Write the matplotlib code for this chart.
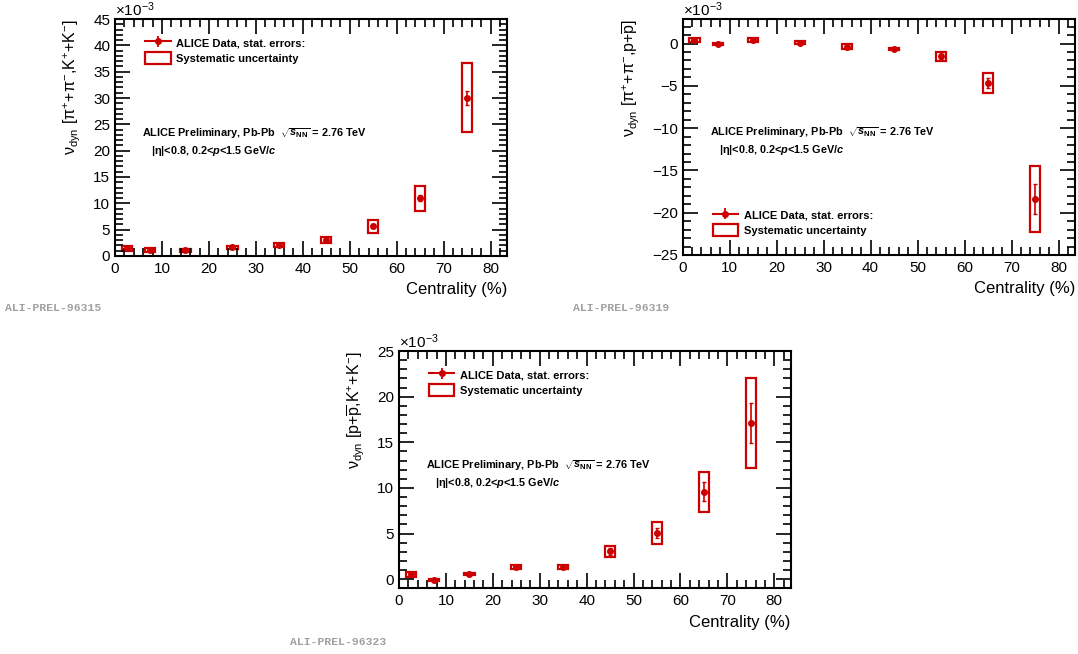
import numpy as np
import matplotlib
matplotlib.use("Agg")
import matplotlib.pyplot as plt
from matplotlib.patches import Rectangle
from matplotlib.lines import Line2D
from matplotlib.collections import LineCollection
from matplotlib.container import ErrorbarContainer
from matplotlib.ticker import MultipleLocator

plt.rcParams['font.family'] = ['Liberation Sans', 'DejaVu Sans']
plt.rcParams['mathtext.fontset'] = 'custom'
plt.rcParams['mathtext.rm'] = 'Liberation Sans'
plt.rcParams['mathtext.it'] = 'Liberation Sans:italic'
plt.rcParams['mathtext.bf'] = 'Liberation Sans:bold'
plt.rcParams['mathtext.bfit'] = 'Liberation Sans:italic:bold'

RED = '#cc0000'

# centrality bins (%)
cent = [2.5, 7.5, 15, 25, 35, 45, 55, 65, 75]

# nu_dyn [pi,K]  (x1e-3)
piK_val = [1.46, 1.14, 1.08, 1.65, 2.09, 3.04, 5.63, 10.95, 30.06]
piK_stat = [0.15, 0.12, 0.12, 0.12, 0.15, 0.2, 0.35, 0.6, 1.3]
piK_sys = [0.5, 0.3, 0.3, 0.3, 0.45, 0.55, 1.2, 2.4, 6.6]

# nu_dyn [pi,p]
pip_val = [0.39, 0.0, 0.43, 0.12, -0.35, -0.63, -1.53, -4.70, -18.42]
pip_stat = [0.08, 0.08, 0.08, 0.08, 0.1, 0.12, 0.35, 0.6, 1.76]
pip_sys = [0.25, 0.12, 0.25, 0.2, 0.3, 0.15, 0.57, 1.2, 3.9]

# nu_dyn [p,K]
pK_val = [0.51, -0.07, 0.55, 1.31, 1.31, 3.03, 5.04, 9.56, 17.15]
pK_stat = [0.08, 0.08, 0.08, 0.1, 0.1, 0.38, 0.56, 1.04, 2.2]
pK_sys = [0.28, 0.12, 0.15, 0.25, 0.25, 0.64, 1.17, 2.2, 4.93]

sys_halfwidth = 1.1

fig = plt.figure(figsize=(10.78, 6.54), dpi=100)

panels = [
    dict(rect=[0.1067, 0.6086, 0.3636, 0.3623], val=piK_val, stat=piK_stat, sys=piK_sys,
         ylim=(0, 45), ylab=r'ν$_{\rm dyn}$ [π$^{+}$+π$^{-}$,K$^{+}$+K$^{-}$]',
         leg=(0.065, 0.945), txt=(0.07, 0.52), tag='ALI-PREL-96315', tagpos=(5, 308)),
    dict(rect=[0.6333, 0.6101, 0.3639, 0.3608], val=pip_val, stat=pip_stat, sys=pip_sys,
         ylim=(-25, 2.9), ylab=r'ν$_{\rm dyn}$ [π$^{+}$+π$^{-}$,p+$\overline{\rm p}$]',
         leg=(0.065, 0.215), txt=(0.07, 0.52), tag='ALI-PREL-96319', tagpos=(573, 308)),
    dict(rect=[0.3701, 0.1005, 0.3634, 0.3628], val=pK_val, stat=pK_stat, sys=pK_sys,
         ylim=(-1, 25), ylab=r'ν$_{\rm dyn}$ [p+$\overline{\rm p}$,K$^{+}$+K$^{-}$]',
         leg=(0.065, 0.945), txt=(0.07, 0.52), tag='ALI-PREL-96323', tagpos=(290, 642)),
]

for p in panels:
    ax = fig.add_axes(p['rect'])
    for x, v, s in zip(cent, p['val'], p['sys']):
        ax.add_patch(Rectangle((x - sys_halfwidth, v - s), 2 * sys_halfwidth, 2 * s,
                               fill=False, edgecolor=RED, lw=1.6))
    ax.errorbar(cent, p['val'], yerr=p['stat'], fmt='o', color=RED, ms=4,
                elinewidth=1.2, capsize=1.5, capthick=1.0)

    # legend handles
    dline = Line2D([], [], color=RED, marker='o', ms=4, lw=1.5)
    bars = LineCollection([], colors=RED, linewidths=1.3)
    h1 = ErrorbarContainer((dline, (), [bars]), has_xerr=False, has_yerr=True)
    box = Rectangle((0, 0), 1, 1, fill=False, edgecolor=RED, lw=1.6)
    ax.legend([h1, box], ['ALICE Data, stat. errors:', 'Systematic uncertainty'],
              loc='upper left', bbox_to_anchor=p['leg'], frameon=False,
              prop=dict(weight='bold', size=8), handlelength=2.3, handleheight=1.3,
              handletextpad=0.5, labelspacing=0.3, borderaxespad=0)

    ax.text(p['txt'][0], p['txt'][1],
            r'ALICE Preliminary, Pb-Pb  $\sqrt{\mathbfit{s}_{\mathbf{NN}}}$ = 2.76 TeV',
            transform=ax.transAxes, fontsize=7.8, fontweight='bold', va='center')
    ax.text(p['txt'][0] + 0.022, p['txt'][1] - 0.075,
            r'|$\mathbf{\eta}$|<0.8, 0.2<$\mathbfit{p}$<1.5 GeV/$\mathbfit{c}$',
            transform=ax.transAxes, fontsize=7.8, fontweight='bold', va='center')

    ax.set_xlim(0, 83.5)
    ax.set_ylim(*p['ylim'])
    ax.xaxis.set_major_locator(MultipleLocator(10))
    ax.xaxis.set_minor_locator(MultipleLocator(2))
    ax.yaxis.set_major_locator(MultipleLocator(5))
    ax.yaxis.set_minor_locator(MultipleLocator(1))
    ax.tick_params(which='both', direction='in', top=True, right=True, labelsize=11, width=1.2)
    ax.tick_params(which='major', length=11)
    ax.tick_params(which='minor', length=6)
    ax.tick_params(axis='x', pad=4)
    for sp in ax.spines.values():
        sp.set_linewidth(1.5)
    ax.set_xlabel('Centrality (%)', loc='right', fontsize=12, labelpad=5)
    ax.set_ylabel(p['ylab'], loc='top', fontsize=11.5, labelpad=7)
    ax.text(0, 1.0, r'$\times$10$^{-3}$', transform=ax.transAxes, fontsize=11,
            ha='left', va='bottom')
    fig.text(p['tagpos'][0] / 1078, 1 - p['tagpos'][1] / 654, p['tag'],
             family='Liberation Mono', fontweight='bold', color='#a0a0a0',
             fontsize=8.2, va='center', ha='left')

fig.savefig('out.png', dpi=100)
